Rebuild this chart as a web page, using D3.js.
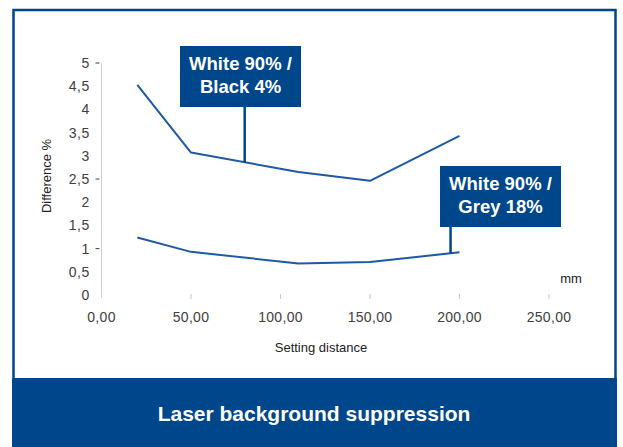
<!DOCTYPE html>
<html lang="en">
<head>
<meta charset="UTF-8">
<title>Laser background suppression</title>
<script src="https://d3js.org/d3.v7.min.js"></script>
<style>
    body { margin: 0; padding: 0; background: #fff; }
    svg { display: block; font-family: "Liberation Sans", Arial, sans-serif; }
</style>
</head>
<body>
<div id="chart"></div>
<script>
// values
const distances = [20, 50, 110, 150, 200];
const blackValues = [4.53, 3.07, 2.65, 2.46, 3.43];
const greyValues = [1.24, 0.93, 0.68, 0.71, 0.92];
const xTicks = [0, 50, 100, 150, 200, 250];
const yTicks = [0, 0.5, 1, 1.5, 2, 2.5, 3, 3.5, 4, 4.5, 5];
const yMarked = [1, 2.5, 5]; // only these have a small tick dash
const callouts = [
    { lines: ['White 90% /', 'Black 4%'], at: 80, series: blackValues },
    { lines: ['White 90% /', 'Grey 18%'], at: 195, series: greyValues }
];

const W = 623, H = 447;
const blue = '#00468b';
const lineBlue = '#1f58a3';

const svg = d3.select('#chart').append('svg')
    .attr('width', W).attr('height', H);

// frame and bottom band
svg.append('rect')
    .attr('x', 13.5).attr('y', 10).attr('width', 602).attr('height', 440)
    .attr('fill', 'none').attr('stroke', blue).attr('stroke-width', 2.5);
svg.append('rect')
    .attr('x', 12).attr('y', 378).attr('width', 605).attr('height', 69)
    .attr('fill', blue);
svg.append('text')
    .attr('x', 314).attr('y', 421)
    .attr('text-anchor', 'middle')
    .attr('fill', '#fff').attr('font-size', 21).attr('font-weight', 'bold')
    .text('Laser background suppression');

const x = d3.scaleLinear().domain([0, 250]).range([101.5, 549]);
const y = d3.scaleLinear().domain([0, 5]).range([295, 63]);

// y axis
const yAxis = svg.append('g');
yAxis.append('line')
    .attr('x1', x(0)).attr('x2', x(0))
    .attr('y1', y(5)).attr('y2', y(0) + 3)
    .attr('stroke', '#d0d0d0').attr('stroke-width', 1);
yAxis.selectAll('.tick').data(yMarked).enter().append('line')
    .attr('x1', x(0) - 6).attr('x2', x(0) - 2)
    .attr('y1', d => y(d)).attr('y2', d => y(d))
    .attr('stroke', '#404040').attr('stroke-width', 1);
yAxis.selectAll('text').data(yTicks).enter().append('text')
    .attr('x', 90).attr('y', d => y(d))
    .attr('dy', '0.35em')
    .attr('text-anchor', 'end')
    .attr('fill', '#404040').attr('font-size', 14)
    .attr('letter-spacing', 0.6)
    .text(d => String(d).replace('.', ','));

// x axis
const xAxis = svg.append('g');
xAxis.selectAll('line').data(xTicks.slice(1)).enter().append('line')
    .attr('x1', d => x(d)).attr('x2', d => x(d))
    .attr('y1', y(0) - 1).attr('y2', y(0) + 4)
    .attr('stroke', '#c8c8c8').attr('stroke-width', 1);
xAxis.selectAll('text').data(xTicks).enter().append('text')
    .attr('x', d => x(d)).attr('y', 317)
    .attr('dy', '0.35em')
    .attr('text-anchor', 'middle')
    .attr('fill', '#404040').attr('font-size', 14)
    .attr('letter-spacing', 0.3)
    .text(d => d3.format('.2f')(d).replace('.', ','));

svg.append('text')
    .attr('x', 321).attr('y', 352)
    .attr('text-anchor', 'middle')
    .attr('fill', '#222').attr('font-size', 13)
    .text('Setting distance');
svg.append('text')
    .attr('x', 571).attr('y', 283)
    .attr('text-anchor', 'middle')
    .attr('fill', '#222').attr('font-size', 13)
    .text('mm');
svg.append('text')
    .attr('transform', 'translate(51,176) rotate(-90)')
    .attr('text-anchor', 'middle')
    .attr('fill', '#222').attr('font-size', 13)
    .text('Difference %');

// lines
const line = d3.line()
    .x((d, i) => x(distances[i]))
    .y(d => y(d));
[blackValues, greyValues].forEach(vals => {
    svg.append('path')
        .datum(vals)
        .attr('d', line)
        .attr('fill', 'none')
        .attr('stroke', lineBlue)
        .attr('stroke-width', 2)
        .attr('stroke-linejoin', 'round');
});

// callout boxes with pointer
function valueAt(vals, d) {
    const i = d3.bisectRight(distances, d) - 1;
    const t = (d - distances[i]) / (distances[i + 1] - distances[i]);
    return vals[i] + t * (vals[i + 1] - vals[i]);
}
const boxes = [
    { x: 180, y: 46, w: 121, h: 61 },
    { x: 440, y: 166, w: 121, h: 61 }
];
callouts.forEach((c, k) => {
    const b = boxes[k];
    const px = x(c.at);
    svg.append('line')
        .attr('x1', px).attr('x2', px)
        .attr('y1', b.y + b.h - 1).attr('y2', y(valueAt(c.series, c.at)))
        .attr('stroke', blue).attr('stroke-width', 2.5);
    svg.append('rect')
        .attr('x', b.x).attr('y', b.y).attr('width', b.w).attr('height', b.h)
        .attr('fill', blue);
    svg.append('text')
        .attr('text-anchor', 'middle')
        .attr('fill', '#fff').attr('font-size', 18.5).attr('font-weight', 'bold')
        .selectAll('tspan').data(c.lines).enter().append('tspan')
        .attr('x', b.x + b.w / 2)
        .attr('y', (d, i) => b.y + 24 + i * 23)
        .text(d => d);
});
</script>
</body>
</html>
